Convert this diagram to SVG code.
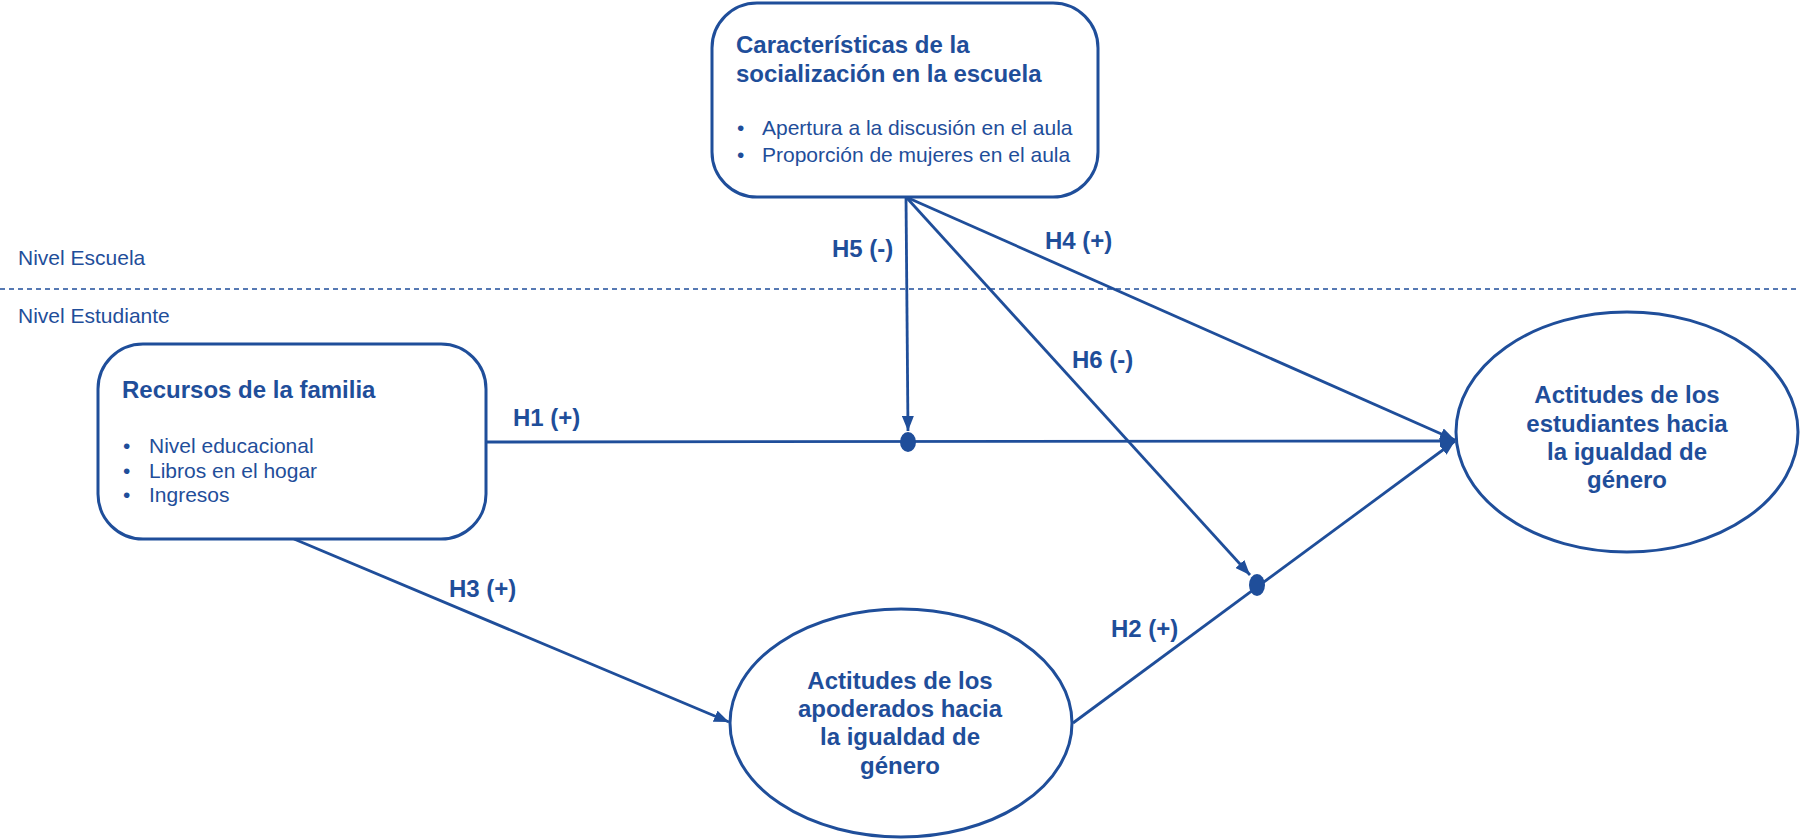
<svg xmlns="http://www.w3.org/2000/svg" width="1800" height="840" viewBox="0 0 1800 840">
<style>
.box{fill:#fff;stroke:#1f4e9a;stroke-width:3}
.t{font-family:"Liberation Sans",Arial,sans-serif;fill:#1f4e9a}
.b{font-weight:bold;font-size:24px}
.r{font-size:21px}
.c{text-anchor:middle}
.ln{stroke:#1f4e9a;stroke-width:2.8;fill:none}
.dot{fill:#1f4e9a}
</style>
<defs>
<marker id="arr" markerUnits="userSpaceOnUse" markerWidth="15" markerHeight="12" refX="15" refY="6" orient="auto">
<path d="M0,0 L15,6 L0,12 z" fill="#1f4e9a"/>
</marker>
</defs>
<rect width="1800" height="840" fill="#fff"/>
<g id="levels">
<line x1="0" y1="289" x2="1800" y2="289" stroke="#1f4e9a" stroke-width="1.5" stroke-dasharray="5,4"/>
<text class="t r" x="18" y="265">Nivel Escuela</text>
<text class="t r" x="18" y="323">Nivel Estudiante</text>
</g>
<g id="connectors">
<line class="ln" x1="906" y1="197" x2="908" y2="431" marker-end="url(#arr)"/>
<line class="ln" x1="906" y1="197" x2="1250" y2="575" marker-end="url(#arr)"/>
<line class="ln" x1="906" y1="197" x2="1455" y2="440" marker-end="url(#arr)"/>
<line class="ln" x1="486" y1="442" x2="1455" y2="441" marker-end="url(#arr)"/>
<line class="ln" x1="1073" y1="723" x2="1455" y2="441" marker-end="url(#arr)"/>
<line class="ln" x1="294" y1="539" x2="729" y2="722" marker-end="url(#arr)"/>
<ellipse class="dot" cx="908" cy="442" rx="8" ry="10"/>
<ellipse class="dot" cx="1257" cy="585" rx="8" ry="11"/>
<text class="t b" x="513" y="426">H1 (+)</text>
<text class="t b" x="1111" y="637">H2 (+)</text>
<text class="t b" x="449" y="597">H3 (+)</text>
<text class="t b" x="1045" y="249">H4 (+)</text>
<text class="t b" x="832" y="257">H5 (-)</text>
<text class="t b" x="1072" y="368">H6 (-)</text>
</g>
<g id="socializacion">
<rect class="box" x="712" y="3" width="386" height="194" rx="45"/>
<text class="t b" x="736" y="53">Características de la</text>
<text class="t b" x="736" y="82">socialización en la escuela</text>
<text class="t r" x="737" y="135">•</text>
<text class="t r" x="762" y="135">Apertura a la discusión en el aula</text>
<text class="t r" x="737" y="162">•</text>
<text class="t r" x="762" y="162">Proporción de mujeres en el aula</text>
</g>
<g id="familia">
<rect class="box" x="98" y="344" width="388" height="195" rx="45"/>
<text class="t b" x="122" y="398">Recursos de la familia</text>
<text class="t r" x="123" y="453">•</text>
<text class="t r" x="149" y="453">Nivel educacional</text>
<text class="t r" x="123" y="478">•</text>
<text class="t r" x="149" y="478">Libros en el hogar</text>
<text class="t r" x="123" y="502">•</text>
<text class="t r" x="149" y="502">Ingresos</text>
</g>
<g id="estudiantes">
<ellipse class="box" cx="1627" cy="432" rx="171" ry="120"/>
<text class="t b c" x="1627" y="403">Actitudes de los</text>
<text class="t b c" x="1627" y="432">estudiantes hacia</text>
<text class="t b c" x="1627" y="460">la igualdad de</text>
<text class="t b c" x="1627" y="488">género</text>
</g>
<g id="apoderados">
<ellipse class="box" cx="901" cy="723" rx="171" ry="114"/>
<text class="t b c" x="900" y="689">Actitudes de los</text>
<text class="t b c" x="900" y="717">apoderados hacia</text>
<text class="t b c" x="900" y="745">la igualdad de</text>
<text class="t b c" x="900" y="774">género</text>
</g>
</svg>
